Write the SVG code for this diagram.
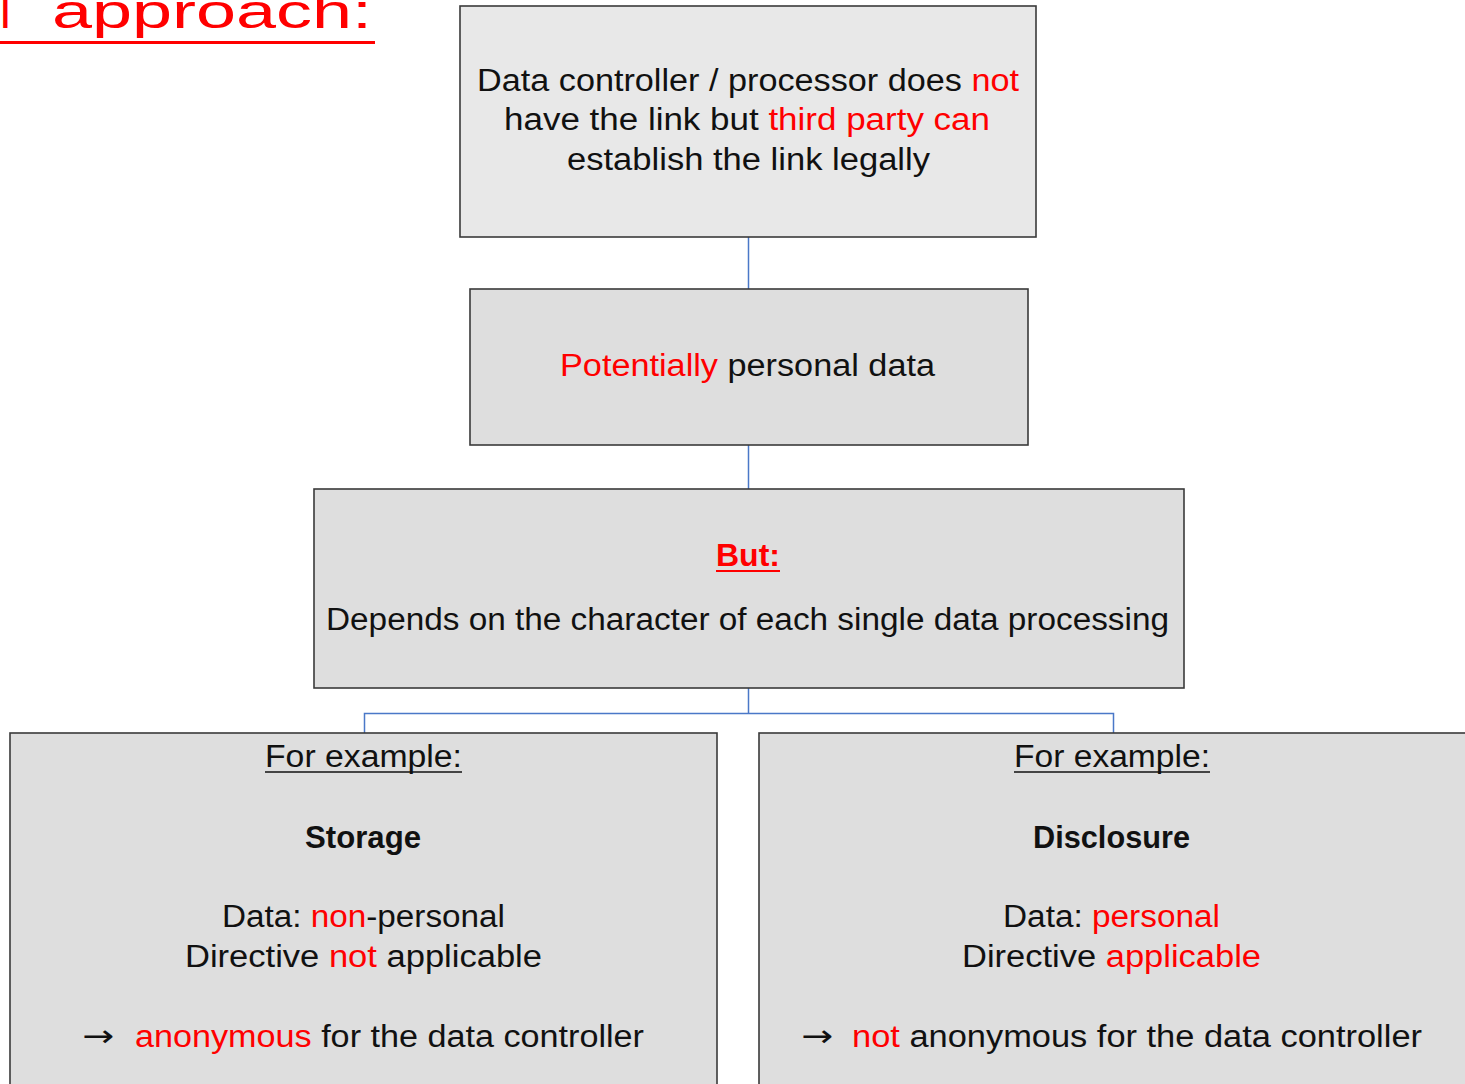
<svg xmlns="http://www.w3.org/2000/svg" width="1465" height="1084" viewBox="0 0 1465 1084">
<style>
.box{stroke:#3a3a3a;stroke-width:1.6}
.t{font-family:"Liberation Sans",Arial,sans-serif;font-size:31px;fill:#111}
.r{fill:#ff0000}
.b{font-weight:bold}
.conn{stroke:#4a78c8;stroke-width:1.5;fill:none}
.ul{stroke:#111;stroke-width:1.6}
.ar{font-family:"DejaVu Sans",sans-serif;font-size:30px;fill:#111}
.ti{font-family:"Liberation Sans",Arial,sans-serif;font-size:48px;fill:#ff0000}
</style>
<rect width="1465" height="1084" fill="#ffffff"/>
<g id="title">
<text class="ti" x="0" y="28">l</text>
<text class="ti" x="52" y="28" textLength="320" lengthAdjust="spacingAndGlyphs">approach:</text>
<line x1="0" y1="42.5" x2="375" y2="42.5" stroke="#ff0000" stroke-width="3"/>
</g>
<g id="connectors">
<path class="conn" d="M748.5 237V289M748.5 445V489M748.5 688V713.5M364.5 733V713.5H1113.5V733"/>
</g>
<g id="n1">
<rect class="box" x="460" y="6" width="576" height="231" fill="#e8e8e8"/>
<text class="t" x="477" y="91" textLength="542" lengthAdjust="spacingAndGlyphs">Data controller / processor does <tspan class="r">not</tspan></text>
<text class="t" x="504" y="130" textLength="486" lengthAdjust="spacingAndGlyphs">have the link but <tspan class="r">third party can</tspan></text>
<text class="t" x="567" y="170" textLength="363" lengthAdjust="spacingAndGlyphs">establish the link legally</text>
</g>
<g id="n2">
<rect class="box" x="470" y="289" width="558" height="156" fill="#dedede"/>
<text class="t" x="560" y="376" textLength="375" lengthAdjust="spacingAndGlyphs"><tspan class="r">Potentially</tspan> personal data</text>
</g>
<g id="n3">
<rect class="box" x="314" y="489" width="870" height="199" fill="#dedede"/>
<text class="t b r" x="716" y="566" textLength="64" lengthAdjust="spacingAndGlyphs">But:</text>
<line x1="716" y1="571" x2="780" y2="571" stroke="#ff0000" stroke-width="1.8"/>
<text class="t" x="326" y="630" textLength="843" lengthAdjust="spacingAndGlyphs">Depends on the character of each single data processing</text>
</g>
<g id="n4">
<rect class="box" x="10" y="733" width="707" height="360" fill="#dedede"/>
<text class="t" x="265" y="767" textLength="197" lengthAdjust="spacingAndGlyphs">For example:</text>
<line class="ul" x1="265" y1="772" x2="462" y2="772"/>
<text class="t b" x="305" y="848" textLength="116" lengthAdjust="spacingAndGlyphs">Storage</text>
<text class="t" x="222" y="927" textLength="283" lengthAdjust="spacingAndGlyphs">Data: <tspan class="r">non</tspan>-personal</text>
<text class="t" x="185" y="967" textLength="357" lengthAdjust="spacingAndGlyphs">Directive <tspan class="r">not</tspan> applicable</text>
<text class="ar" x="82" y="1046" textLength="32" lengthAdjust="spacingAndGlyphs">→</text>
<text class="t" x="135" y="1047" textLength="509" lengthAdjust="spacingAndGlyphs"><tspan class="r">anonymous</tspan> for the data controller</text>
</g>
<g id="n5">
<rect class="box" x="759" y="733" width="720" height="360" fill="#dedede"/>
<text class="t" x="1014" y="767" textLength="196" lengthAdjust="spacingAndGlyphs">For example:</text>
<line class="ul" x1="1014" y1="772" x2="1210" y2="772"/>
<text class="t b" x="1033" y="848" textLength="157" lengthAdjust="spacingAndGlyphs">Disclosure</text>
<text class="t" x="1003" y="927" textLength="217" lengthAdjust="spacingAndGlyphs">Data: <tspan class="r">personal</tspan></text>
<text class="t" x="962" y="967" textLength="299" lengthAdjust="spacingAndGlyphs">Directive <tspan class="r">applicable</tspan></text>
<text class="ar" x="801" y="1046" textLength="32" lengthAdjust="spacingAndGlyphs">→</text>
<text class="t" x="852" y="1047" textLength="570" lengthAdjust="spacingAndGlyphs"><tspan class="r">not</tspan> anonymous for the data controller</text>
</g>
</svg>
